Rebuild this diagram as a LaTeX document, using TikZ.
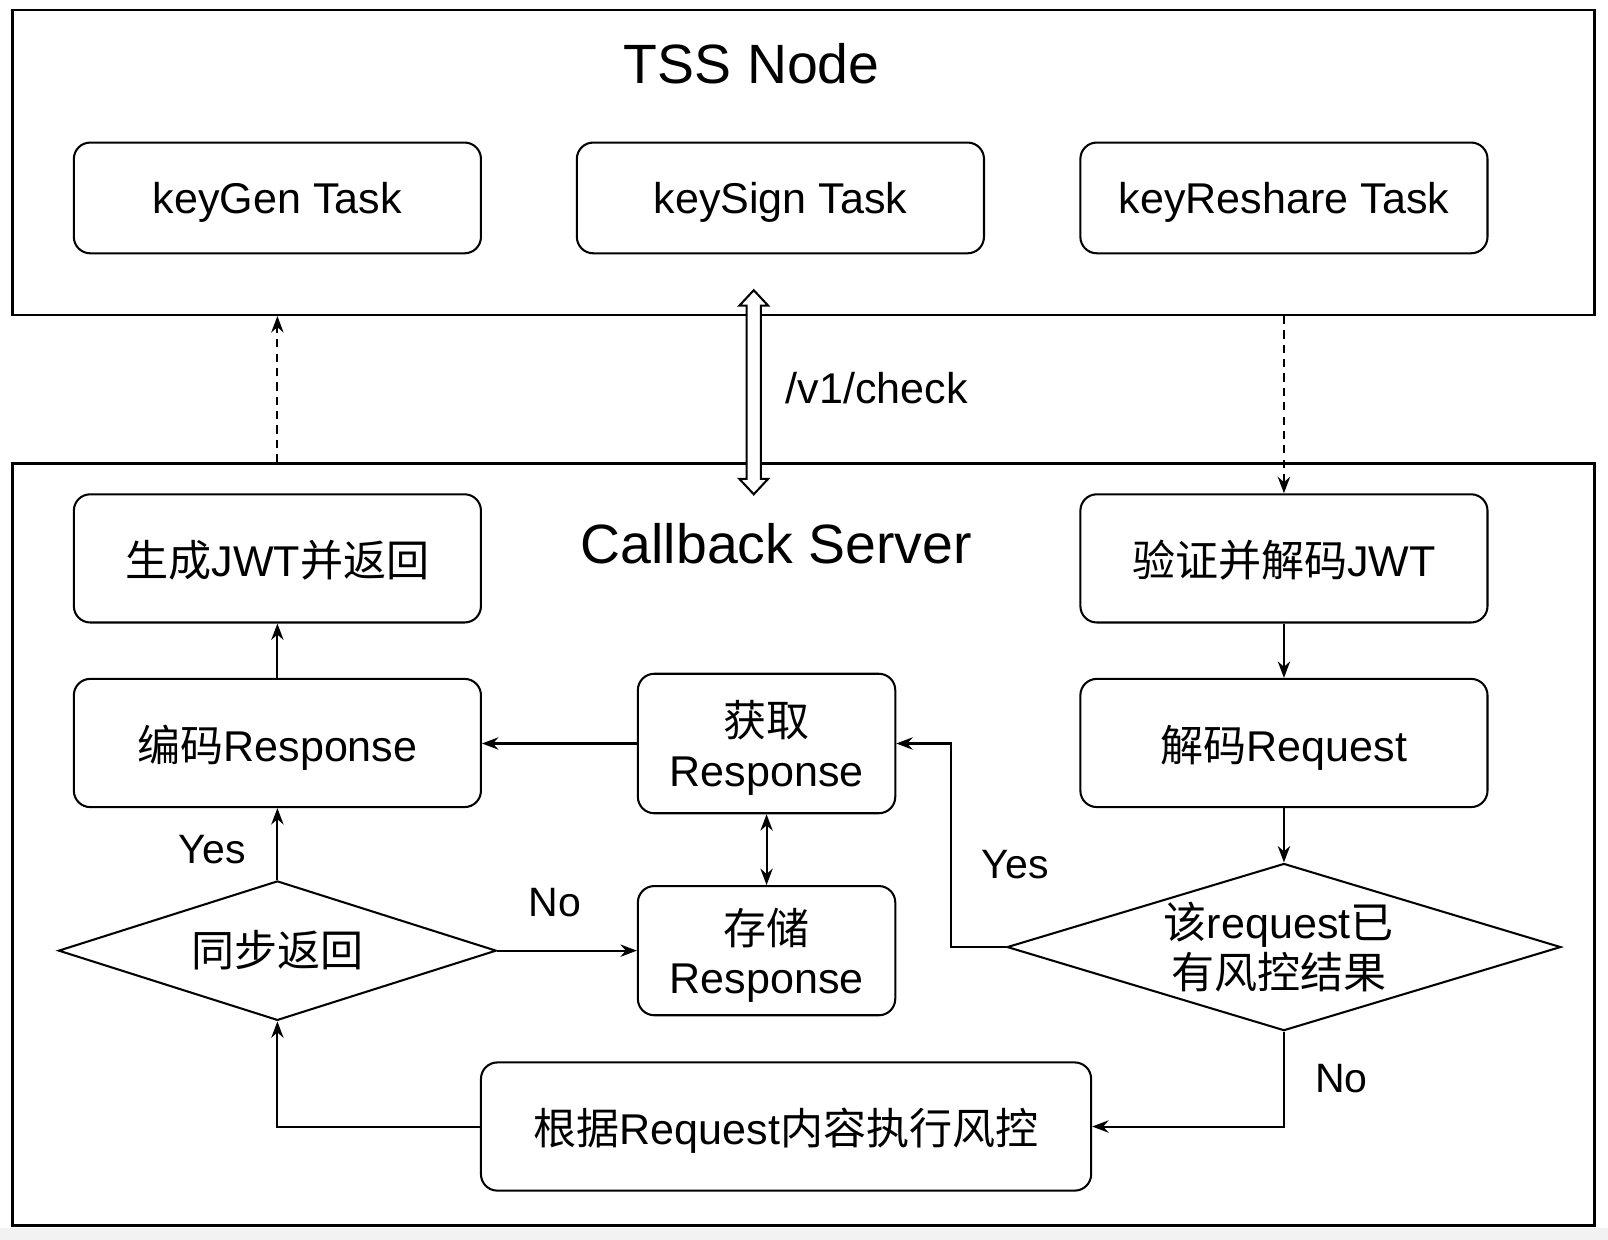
\documentclass[tikz,border=0pt]{standalone}
\usepackage{fontspec}
\setmainfont{Liberation Sans}
\newfontfamily\cjk{Noto Sans CJK SC}
\usetikzlibrary{arrows.meta,shapes.geometric}
\begin{document}
\begin{tikzpicture}[x=0.5pt,y=-0.5pt,
  container/.style={draw, line width=1.2pt, rectangle, inner sep=0pt},
  box/.style={draw, line width=1pt, rounded corners=8pt, align=center, inner sep=0pt,
    text depth=0pt, font=\fontsize{21pt}{24pt}\selectfont},
  decision/.style={draw, line width=1pt, diamond, inner sep=0pt},
  dtext/.style={align=center, inner sep=0pt, font=\fontsize{21pt}{24pt}\selectfont},
  title/.style={inner sep=0pt, font=\fontsize{27pt}{30pt}\selectfont},
  lbl/.style={inner sep=0pt, font=\fontsize{20pt}{24pt}\selectfont},
  tip/.style={Stealth[length=8pt,width=6pt]},
  conn/.style={line width=1pt, -{Stealth[length=8pt,width=6pt]}},
  dconn/.style={conn, dash pattern=on 4pt off 3pt}]
\fill[black!5] (0,1197) rectangle (1568,1209);
\useasboundingbox (0,0) rectangle (1568,1209);

% containers
\node[container, minimum width=771.5pt, minimum height=148.5pt] (tss) at (783.5,158.5) {};
\node[container, minimum width=771.5pt, minimum height=371.5pt] (cb) at (783.5,823.5) {};
\node[title] (tsst) at (733,62) {TSS Node};
\node[title] (cbt) at (757,530) {Callback Server};

% TSS tasks
\node[box, minimum width=198.5pt, minimum height=54pt] (kg) at (270.5,193) {keyGen Task};
\node[box, minimum width=198.5pt, minimum height=54pt] (ks) at (761,193) {keySign Task};
\node[box, minimum width=198.5pt, minimum height=54pt] (kr) at (1252,193) {keyReshare Task};

% callback server boxes
\node[box, minimum width=198.5pt, minimum height=62.5pt] (gen) at (270.5,544.5) {{\cjk 生成}JWT{\cjk 并返回}};
\node[box, minimum width=198.5pt, minimum height=62.5pt] (ver) at (1252,544.5) {{\cjk 验证并解码}JWT};
\node[box, minimum width=198.5pt, minimum height=62.5pt] (enc) at (270.5,724.5) {{\cjk 编码}Response};
\node[box, minimum width=125.5pt, minimum height=68pt] (get) at (747.5,725) {{\cjk 获取}\\Response};
\node[box, minimum width=198.5pt, minimum height=62.5pt] (dec) at (1252,724.5) {{\cjk 解码}Request};
\node[box, minimum width=125.5pt, minimum height=63pt] (sto) at (747.5,927) {{\cjk 存储}\\Response};
\node[box, minimum width=297.5pt, minimum height=62.5pt] (risk) at (766.5,1098.5) {{\cjk 根据}Request{\cjk 内容执行风控}};

% decisions
\node[decision, minimum width=213.5pt, minimum height=68pt] (d1) at (270.5,927) {};
\node[dtext] (d1t) at (d1.center) {{\cjk 同步返回}};
\node[decision, minimum width=270pt, minimum height=81.5pt] (d2) at (1252,923.5) {};
\node[dtext] (d2t) at (1247,923.5) {{\cjk 该}request{\cjk 已}\\{\cjk 有风控结果}};

% connectors
\draw[dconn] (gen.north |- cb.north) -- (gen.north |- tss.south);
\draw[dconn] (ver.north |- tss.south) -- (ver.north);
\draw[conn] (enc.north) -- (gen.south);
\draw[conn] (get.west) -- (get.west -| enc.east);
\draw[line width=1pt, {Stealth[length=8pt,width=6pt]}-{Stealth[length=8pt,width=6pt]}] (get.south) -- (sto.north);
\draw[conn] (d1.east) -- (d1.east -| sto.west);
\draw[conn] (d1.north) -- (enc.south);
\draw[conn] (ver.south) -- (dec.north);
\draw[conn] (dec.south) -- (d2.north);
\draw[conn] (d2.west) -- ++(-54,0) |- (get.east);
\draw[conn] (d2.south) |- (risk.east);
\draw[conn] (risk.west) -| (d1.south);

% /v1/check double arrow
\coordinate (chk) at (735,382.5);
\draw[line width=1pt, fill=white, line join=miter] (chk) ++(0,-99.5) -- ++(14,15) -- ++(-7,0) -- ++(0,169)
  -- ++(7,0) -- ++(-14,15) -- ++(-14,-15) -- ++(7,0) -- ++(0,-169) -- ++(-7,0) -- cycle;
\node[lbl, anchor=west, font=\fontsize{21pt}{24pt}\selectfont] (chkl) at (766,378) {/v1/check};

% labels
\node[lbl] (y1) at (207,828) {Yes};
\node[lbl] (n1) at (541,880) {No};
\node[lbl] (y2) at (990,843) {Yes};
\node[lbl] (n2) at (1308,1052) {No};
\end{tikzpicture}
\end{document}
